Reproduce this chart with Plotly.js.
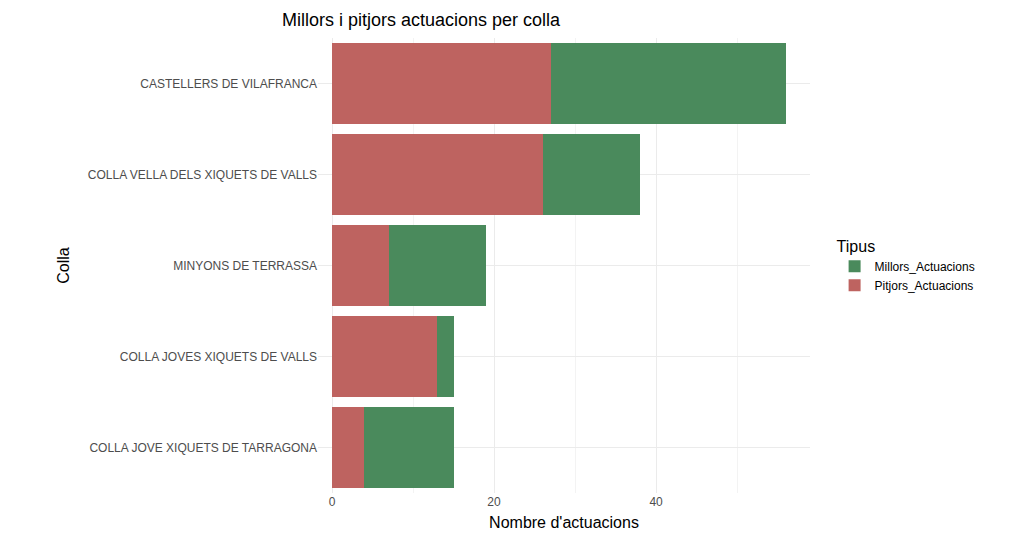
<!DOCTYPE html>
<html><head><script src="https://cdn.plot.ly/plotly-3.0.1.min.js"></script></head>
<body style="margin:0"><div id="c" style="width:1024px;height:544px"></div>
<script>
const colles = ["CASTELLERS DE VILAFRANCA","COLLA VELLA DELS XIQUETS DE VALLS","MINYONS DE TERRASSA","COLLA JOVES XIQUETS DE VALLS","COLLA JOVE XIQUETS DE TARRAGONA"];
const pitjors = [27, 26, 7, 13, 4];
const millors = [29, 12, 12, 2, 11];
const traces = [
 {type:'bar',orientation:'h',y:colles,x:pitjors,name:'Pitjors_Actuacions',marker:{color:'#BE6360'},width:0.9},
 {type:'bar',orientation:'h',y:colles,x:millors,name:'Millors_Actuacions',marker:{color:'#4A8A5C'},width:0.9}
];
Plotly.newPlot('c',traces,{
 barmode:'stack',width:1024,height:544,
 margin:{l:318,r:214,t:38,b:51},
 paper_bgcolor:'white',plot_bgcolor:'white',
 font:{family:'Liberation Sans, Arial',color:'#4d4d4d',size:12},
 title:{text:'Millors i pitjors actuacions per colla',x:282/1024,xref:'container',xanchor:'left',y:0.975,font:{size:18,color:'black'}},
 xaxis:{range:[-1.73,59],tickvals:[0,20,40],gridcolor:'#ebebeb',zeroline:false,
   minor:{tickvals:[10,30,50],gridcolor:'#f3f3f3',showgrid:true},
   title:{text:"Nombre d'actuacions",font:{size:16,color:'black'},standoff:8}},
 yaxis:{categoryorder:'array',categoryarray:colles,autorange:'reversed',range:[4.6,-0.6],gridcolor:'#ebebeb',
   ticks:'',ticklen:0,title:{text:'Colla',font:{size:16,color:'black'},standoff:14}},
 legend:{x:1.05,y:0.5,yanchor:'middle',traceorder:'reversed',title:{text:'Tipus',font:{size:16,color:'black'}},font:{size:12,color:'black'}},
 bargap:0.1
},{displayModeBar:false});
</script></body></html>
